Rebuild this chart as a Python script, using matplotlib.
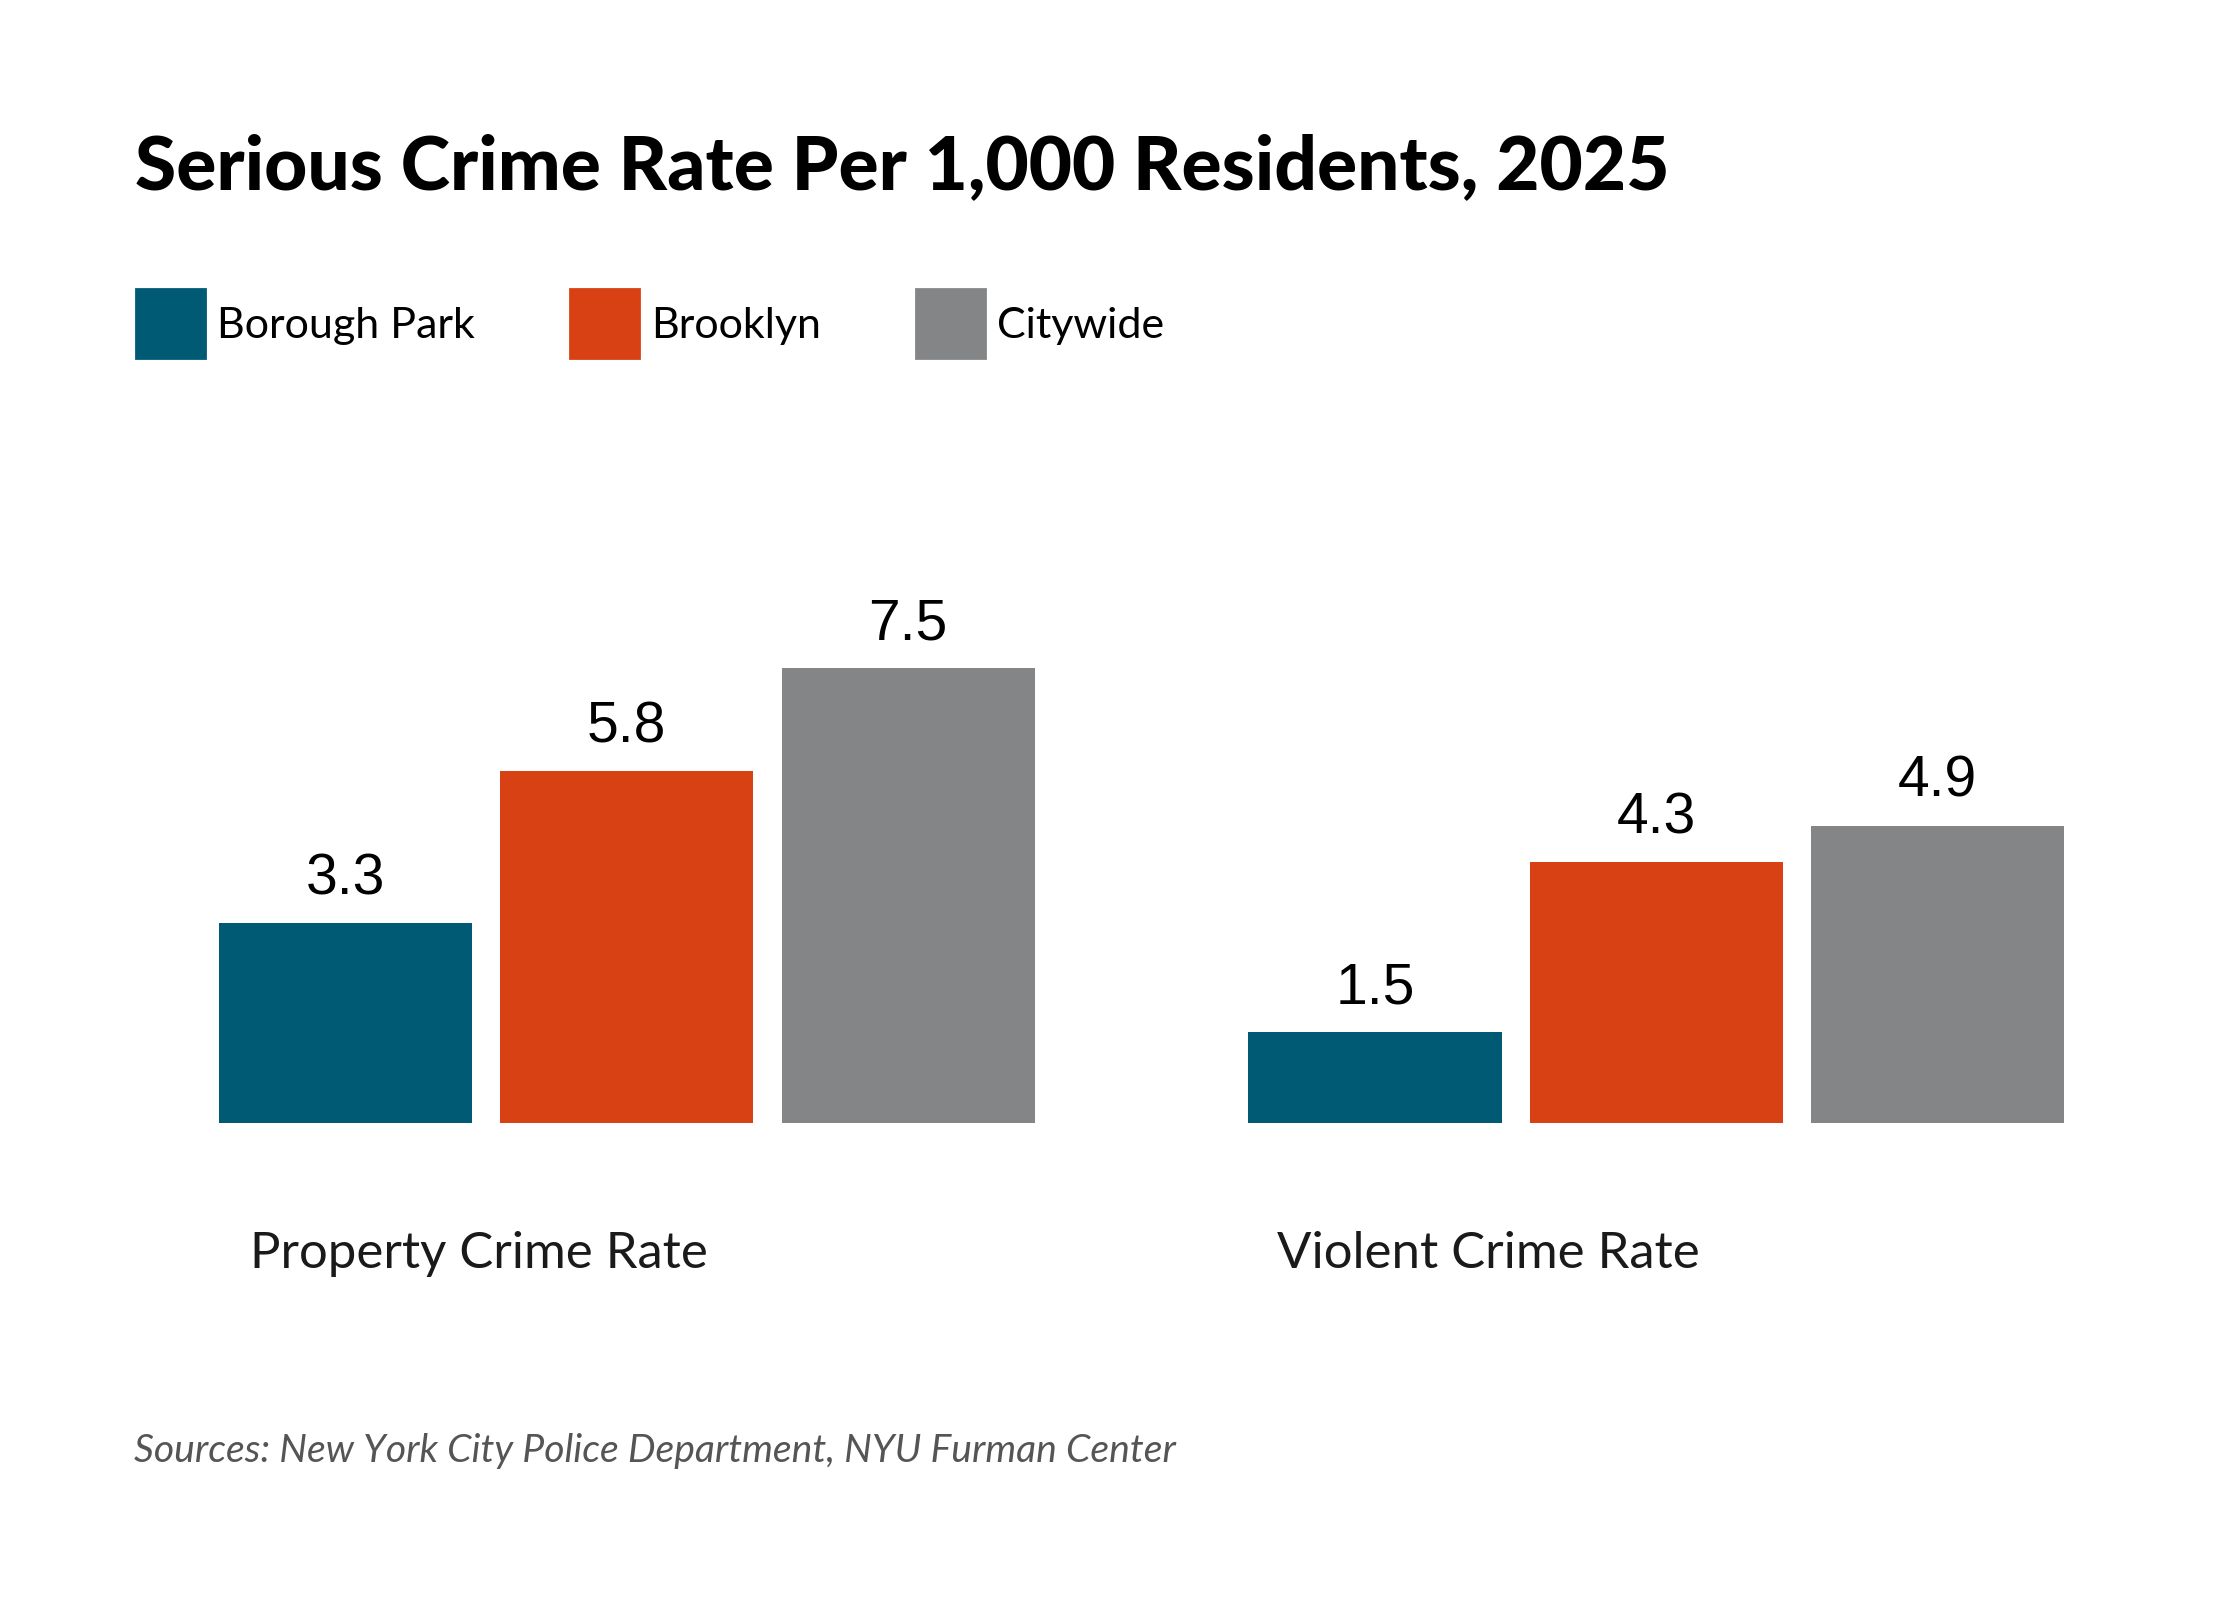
import matplotlib.pyplot as plt
from matplotlib.patches import Rectangle

# data
categories = ['Property Crime Rate', 'Violent Crime Rate']
series = ['Borough Park', 'Brooklyn', 'Citywide']
values = {
    'Borough Park': [3.3, 1.5],
    'Brooklyn': [5.8, 4.3],
    'Citywide': [7.5, 4.9],
}
colors = ['#005a73', '#d74114', '#848587']
title = 'Serious Crime Rate Per 1,000 Residents, 2025'
source = 'Sources: New York City Police Department, NYU Furman Center'

W, H = 2240, 1600
fig = plt.figure(figsize=(W / 200, H / 200), dpi=200)
fig.patch.set_facecolor('white')


def fx(px):
    return px / W


def fy(py):
    # py measured from top
    return 1 - py / H


# title
fig.text(fx(135), fy(189), title, fontsize=26.9, fontweight='black',
         family='Lato', color='black', va='baseline', ha='left')

# legend
leg_x = [136, 570, 916]
for i, name in enumerate(series):
    fig.patches.append(Rectangle((fx(leg_x[i]), fy(358)), fx(69), 69 / H,
                                 transform=fig.transFigure, color=colors[i]))
    fig.text(fx(leg_x[i] + 81), fy(338), name, fontsize=15.5, family='Lato',
             color='black', va='baseline', ha='left')

# bars
step = 1.0
bw = 0.9
gap = 3.66
unit_px = 60.7
ax_h = 10 * unit_px
ax = fig.add_axes([fx(219), fy(1123), fx(2064 - 219), ax_h / H])
ax.set_xlim(-bw / 2, gap + 2 + bw / 2)
ax.set_ylim(0, 10)
ax.axis('off')

for i, name in enumerate(series):
    xs = [g * gap + i * step for g in range(len(categories))]
    bars = ax.bar(xs, values[name], width=bw, color=colors[i])
    for b, v in zip(bars, values[name]):
        ax.annotate(f'{v:.1f}', (b.get_x() + b.get_width() / 2, v),
                    xytext=(0, 10.3), textcoords='offset points',
                    ha='center', va='baseline', fontsize=20.5,
                    family='Liberation Sans', color='black')

# category labels
cat_x = [250, 1277]
for cx, c in zip(cat_x, categories):
    fig.text(fx(cx), fy(1268), c, fontsize=18.3, family='Lato',
             color='#1a1a1a', va='baseline', ha='left')

# source
fig.text(fx(134), fy(1462), source, fontsize=14.1, family='Lato',
         style='italic', color='#555555', va='baseline', ha='left')

fig.savefig('out.png', dpi=200)
